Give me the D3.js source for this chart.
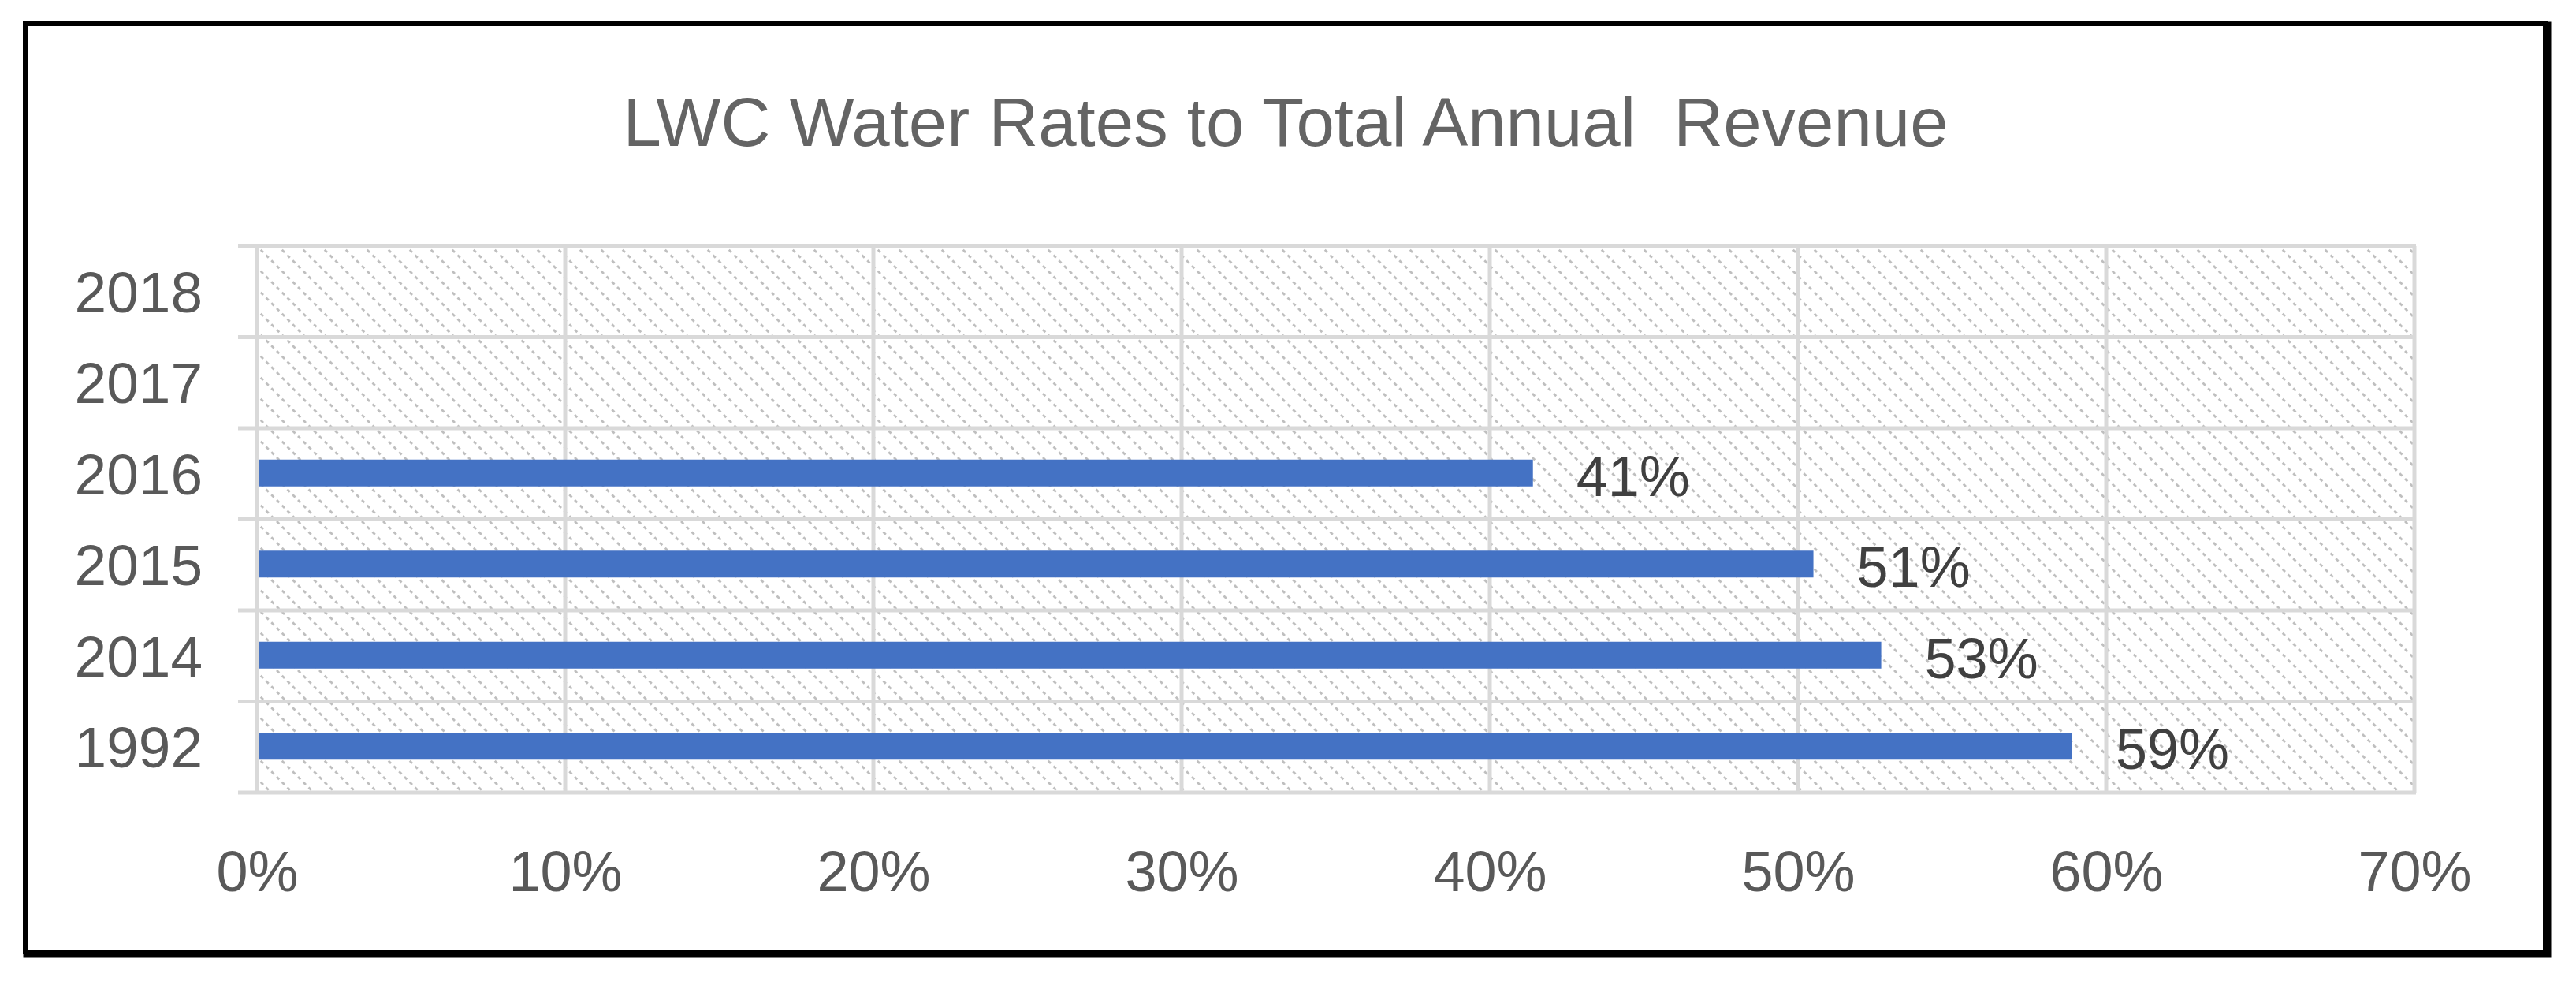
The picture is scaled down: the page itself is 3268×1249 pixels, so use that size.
<!DOCTYPE html>
<html>
<head>
<meta charset="utf-8">
<script src="https://cdnjs.cloudflare.com/ajax/libs/d3/7.8.5/d3.min.js"></script>
<style>
  body { margin: 0; background: #fff; }
  text { font-family: "Liberation Sans", Arial, sans-serif; }
</style>
</head>
<body>
<div id="chart"></div>
<script>
// chart data
var years = ["2018", "2017", "2016", "2015", "2014", "1992"];
var shares = [null, null, 0.414, 0.505, 0.527, 0.589];
var shareLabels = ["", "", "41%", "51%", "53%", "59%"];
var xTicks = [0, 0.1, 0.2, 0.3, 0.4, 0.5, 0.6, 0.7];
var chartTitle = "LWC Water Rates to Total Annual  Revenue";

var svgWidth = 3268;
var svgHeight = 1249;

// plot box
var margin = { top: 312, right: 205, bottom: 244, left: 326 };
var width = svgWidth - margin.left - margin.right;
var height = svgHeight - margin.top - margin.bottom;

var svg = d3.select("#chart")
    .append("svg")
    .attr("width", svgWidth)
    .attr("height", svgHeight);

// hatch pattern for the plot background
var defs = svg.append("defs");
var hatch = defs.append("pattern")
    .attr("id", "hatch")
    .attr("patternUnits", "userSpaceOnUse")
    .attr("width", 27)
    .attr("height", 27);
hatch.append("rect")
    .attr("width", 27)
    .attr("height", 27)
    .attr("fill", "#fff");
hatch.append("path")
    .attr("d", "M-2,-2 L29,29 M-2,25 L2,29 M25,-2 L29,2")
    .attr("stroke", "#bfbfbf")
    .attr("stroke-width", 2.8)
    .attr("stroke-dasharray", "4.6 4.95");

// outer frame with a little shadow on right/bottom
svg.append("rect")
    .attr("x", 34).attr("y", 32)
    .attr("width", 3198).attr("height", 1178)
    .attr("fill", "none")
    .attr("stroke", "#000")
    .attr("stroke-width", 9);
svg.append("rect")
    .attr("x", 32).attr("y", 30)
    .attr("width", 3197).attr("height", 1177)
    .attr("fill", "#fff")
    .attr("stroke", "#000")
    .attr("stroke-width", 6);

// title (keep the double space)
svg.append("text")
    .attr("x", 1631)
    .attr("y", 185)
    .attr("text-anchor", "middle")
    .attr("font-size", 87)
    .attr("fill", "#646464")
    .style("white-space", "pre")
    .text(chartTitle);

var chartGroup = svg.append("g")
    .attr("transform", `translate(${margin.left}, ${margin.top})`);

var xLinearScale = d3.scaleLinear()
    .domain([0, 0.7])
    .range([0, width]);

var yBandScale = d3.scaleBand()
    .domain(years)
    .range([0, height])
    .padding(0);

// background
chartGroup.append("rect")
    .attr("width", width)
    .attr("height", height)
    .attr("fill", "url(#hatch)");

// vertical gridlines
chartGroup.selectAll(".vgrid")
    .data(xTicks)
    .enter()
    .append("line")
    .attr("class", "vgrid")
    .attr("x1", d => xLinearScale(d))
    .attr("x2", d => xLinearScale(d))
    .attr("y1", 0)
    .attr("y2", height)
    .attr("stroke", "#d9d9d9")
    .attr("stroke-width", 5);

// row separators (with the little outer ticks)
var rowEdges = years.map(d => yBandScale(d)).concat([height]);
chartGroup.selectAll(".hgrid")
    .data(rowEdges)
    .enter()
    .append("line")
    .attr("class", "hgrid")
    .attr("x1", -24)
    .attr("x2", width + 2)
    .attr("y1", d => d)
    .attr("y2", d => d)
    .attr("stroke", "#d9d9d9")
    .attr("stroke-width", 5);

// bars
var barH = 34;
var barData = years.map((y, i) => ({ year: y, value: shares[i], label: shareLabels[i] }))
    .filter(d => d.value !== null);

chartGroup.selectAll(".bar")
    .data(barData)
    .enter()
    .append("rect")
    .attr("class", "bar")
    .attr("x", xLinearScale(0) + 3)
    .attr("y", d => yBandScale(d.year) + (yBandScale.bandwidth() - barH) / 2 - 1)
    .attr("width", d => xLinearScale(d.value) - xLinearScale(0) - 3)
    .attr("height", barH)
    .attr("fill", "#4472c4");

// data labels
chartGroup.selectAll(".barLabel")
    .data(barData)
    .enter()
    .append("text")
    .attr("class", "barLabel")
    .attr("x", d => xLinearScale(d.value) + 55)
    .attr("y", d => yBandScale(d.year) + yBandScale.bandwidth() / 2 + 28)
    .attr("font-size", 72)
    .attr("fill", "#404040")
    .text(d => d.label);

// x axis labels
var bottomAxis = d3.axisBottom(xLinearScale)
    .tickValues(xTicks)
    .tickFormat(d3.format(".0%"))
    .tickSize(0)
    .tickPadding(0);

var xAxis = chartGroup.append("g")
    .attr("transform", `translate(0, ${height})`)
    .call(bottomAxis);
xAxis.select(".domain").remove();
xAxis.selectAll("text")
    .attr("dy", null)
    .attr("y", 125)
    .attr("font-size", 72)
    .attr("font-family", "Liberation Sans, Arial, sans-serif")
    .attr("fill", "#595959");

// y axis labels
var leftAxis = d3.axisLeft(yBandScale)
    .tickSize(0)
    .tickPadding(0);

var yAxis = chartGroup.append("g")
    .call(leftAxis);
yAxis.select(".domain").remove();
yAxis.selectAll("text")
    .attr("dy", null)
    .attr("x", -69)
    .attr("y", 26)
    .attr("font-size", 73)
    .attr("font-family", "Liberation Sans, Arial, sans-serif")
    .attr("fill", "#595959");
</script>
</body>
</html>
